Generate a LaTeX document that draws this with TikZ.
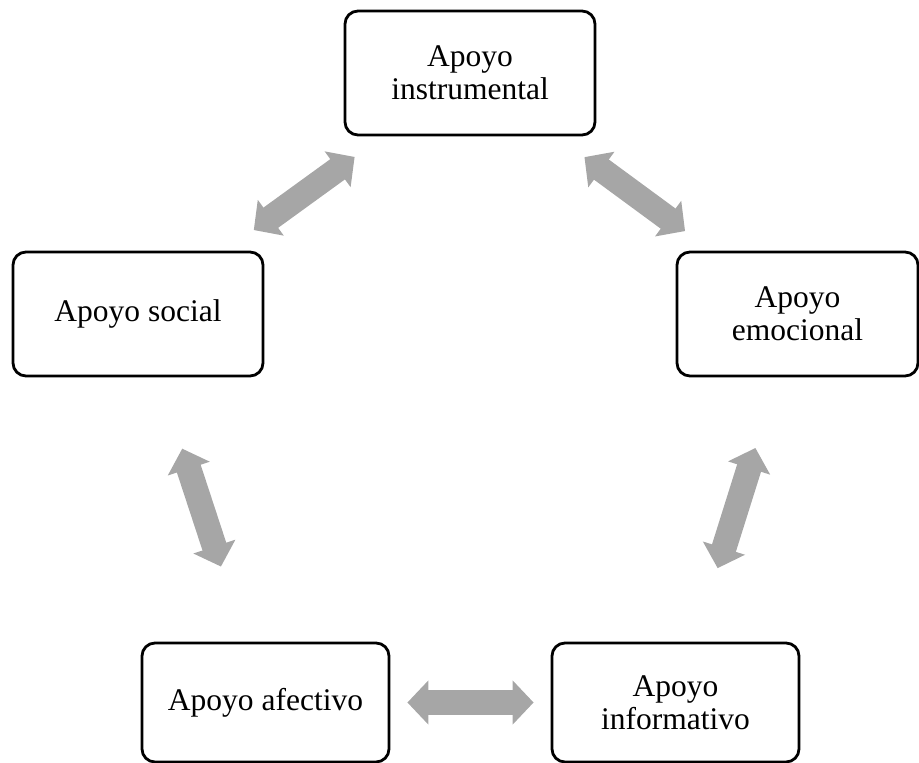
\documentclass[tikz,border=0pt]{standalone}
\usepackage{fontspec}
\setmainfont{Liberation Serif}
\usetikzlibrary{arrows.meta}
\definecolor{arrowgray}{HTML}{A6A6A6}

\begin{document}
\begin{tikzpicture}[x=1pt, y=-1pt,
  box/.style={draw, line width=2.8pt, rounded corners=13pt, minimum width=250pt, minimum height=124pt, inner sep=0pt, align=center, font=\fontsize{31.5}{32.5}\selectfont},
  link/.style={draw=arrowgray, line width=25pt, {Triangle[width=43pt,length=21pt]}-{Triangle[width=43pt,length=21pt]}}]
  \useasboundingbox (0,0) rectangle (919,763);

  % boxes
  \node[box] (instr) at (470,73) {Apoyo\\instrumental};
  \node[box] (social) at (138,314) {Apoyo social};
  \node[box, minimum width=241pt] (emoc) at (797.5,314) {Apoyo\\emocional};
  \node[box, minimum width=247pt, minimum height=119pt] (afect) at (265.5,702.5) {Apoyo afectivo};
  \node[box, minimum width=247pt, minimum height=119pt] (inform) at (675.5,702.5) {Apoyo\\informativo};

  % double arrows between neighbours
  \draw[link, shorten <=35pt, shorten >=35pt] (social) -- (instr);
  \draw[link, shorten <=35pt, shorten >=33pt] (instr) -- (emoc);
  \draw[link, shorten <=74pt, shorten >=77pt] (emoc) -- (inform);
  \draw[link, shorten <=17pt, shorten >=17pt] (afect) -- (inform);
  \draw[link, shorten <=75pt, shorten >=79pt] (social) -- (afect);
\end{tikzpicture}
\end{document}
